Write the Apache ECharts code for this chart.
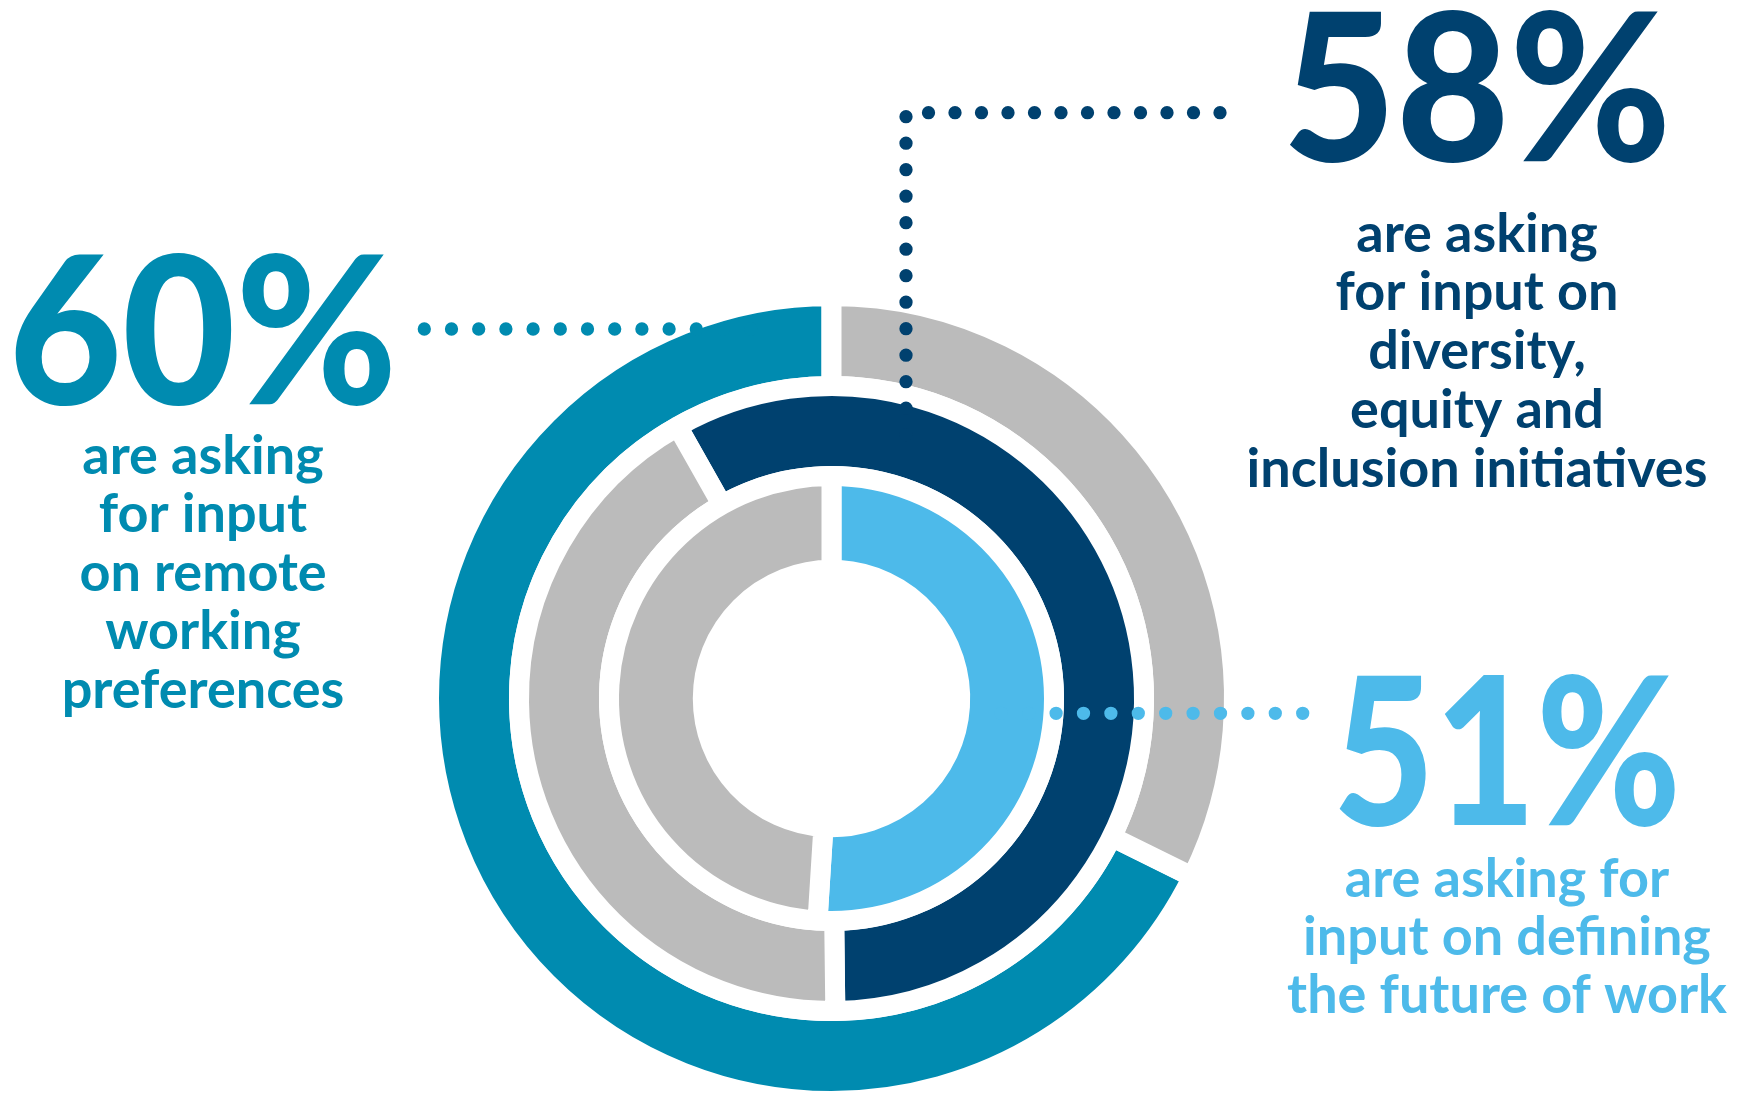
<!DOCTYPE html>
<html>
<head>
<meta charset="utf-8">
<script src="https://cdn.jsdelivr.net/npm/echarts@6/dist/echarts.min.js"></script>
<style>
html,body{margin:0;padding:0;background:#fff;}
#chart{width:1741px;height:1093px;}
</style>
</head>
<body>
<div id="chart"></div>
<script>
// ---- data ----
const bigLabels = ['60%', '58%', '51%'];
const captions = [
  'are asking\nfor input\non remote\nworking\npreferences',
  'are asking\nfor input on\ndiversity,\nequity and\ninclusion initiatives',
  'are asking for\ninput on defining\nthe future of work'
];
// arc shares as drawn in the reference (highlighted part, remainder)
const outerRing = [67.7, 32.3];   // remote working (arc drawn larger than its 60% label)
const middleRing = [58, 42];      // diversity, equity and inclusion
const innerRing = [51, 49];       // defining the future of work

// ---- styling ----
const TEAL = '#008bb0', NAVY = '#00416f', LIGHT = '#4dbaea', GRAY = '#bbbbbb';
const CX = 831.5, CY = 698.5;

const chart = echarts.init(document.getElementById('chart'), null, {renderer: 'canvas'});

function ring(values, color, radius, startAngle, clockwise) {
  return {
    type: 'pie',
    center: [CX, CY],
    radius: radius,
    startAngle: startAngle,
    clockwise: clockwise,
    silent: true,
    animation: false,
    label: {show: false},
    labelLine: {show: false},
    emphasis: {disabled: true},
    itemStyle: {borderColor: '#ffffff', borderWidth: 20, borderJoin: 'bevel'},
    z: 2,
    data: [
      {value: values[0], itemStyle: {color: color}},
      {value: values[1], itemStyle: {color: GRAY}}
    ]
  };
}

function dots(points, color, gap) {
  return {
    type: 'polyline',
    z: 10,
    silent: true,
    shape: {points: points},
    style: {stroke: color, lineWidth: 13.3, lineCap: 'round', lineDash: [0, gap], fill: null}
  };
}

const BIG = 206, BODY = 54;
const bigFont = {fontFamily: 'Lato', fontWeight: 900, fontSize: BIG};
const bodyFont = {fontFamily: 'Lato', fontWeight: 'bold', fontSize: BODY};

function txt(x, y, text, color, font, lh, scaleX) {
  return {
    type: 'text', z: 20, silent: true,
    x: x, y: y, scaleX: scaleX || 1, originX: 0,
    style: Object.assign({
      text: text, fill: color, align: 'center', verticalAlign: 'top',
      lineHeight: lh
    }, font)
  };
}
// y of a text box whose first baseline should sit at `base`
function topFor(base, size, lh) { return base - lh / 2 - 0.324 * size; }

chart.setOption({
  animation: false,
  series: [
    ring(outerRing, TEAL, [312.5, 402.5], 90, false),
    ring(middleRing, NAVY, [222.5, 312.5], 119.5, true),
    ring(innerRing, LIGHT, [128.7, 222.5], 90, true)
  ],
  graphic: [
    dots([[424.3, 329], [760, 329]], TEAL, 27.2),
    dots([[1220, 112.7], [906, 112.7], [906, 460]], NAVY, 26.5),
    dots([[1302.7, 713.3], [990, 713.3]], LIGHT, 27.4),
    txt(203, topFor(404, BIG, BIG), bigLabels[0], TEAL, bigFont, BIG, 0.95),
    txt(1477, topFor(161, BIG, BIG), bigLabels[1], NAVY, bigFont, BIG, 0.95),
    txt(1507, topFor(825, BIG, BIG), bigLabels[2], LIGHT, bigFont, BIG, 0.85),
    txt(203, topFor(474, BODY, 58.5), captions[0], TEAL, bodyFont, 58.5),
    txt(1477, topFor(251.7, BODY, 58.75), captions[1], NAVY, bodyFont, 58.75),
    txt(1507, topFor(896.7, BODY, 58.3), captions[2], LIGHT, bodyFont, 58.3)
  ]
});
</script>
</body>
</html>
